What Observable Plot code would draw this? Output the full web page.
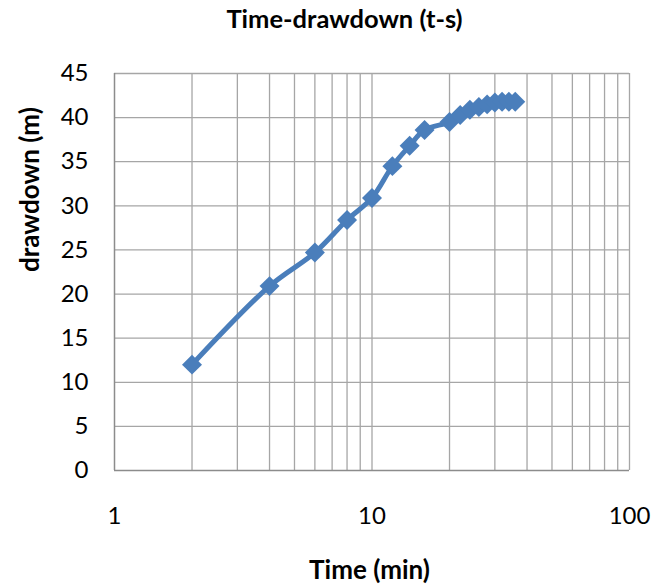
<!DOCTYPE html>
<html><head><meta charset="utf-8">
<script src="https://cdn.jsdelivr.net/npm/d3@7"></script>
<script src="https://cdn.jsdelivr.net/npm/@observablehq/plot@0.6"></script>
<style>body{margin:0;background:#fff}</style>
</head><body><div id="chart"></div>
<script>
const title = "Time-drawdown (t-s)";
const xLabel = "Time (min)";
const yLabel = "drawdown (m)";
const time = [2, 4, 6, 8, 10, 12, 14, 16, 20, 22, 24, 26, 28, 30, 32, 34, 36];
const drawdown = [12.0, 20.9, 24.7, 28.4, 30.9, 34.5, 36.8, 38.6, 39.5, 40.3, 40.9, 41.2, 41.5, 41.7, 41.8, 41.8, 41.8];
const xTicks = [1, 10, 100];
const xGrid = [2,3,4,5,6,7,8,9,10,20,30,40,50,60,70,80,90,100];
const yTicks = [0,5,10,15,20,25,30,35,40,45];

const data = time.map((t, i) => ({t, s: drawdown[i]}));
const font = "Lato, 'Open Sans', sans-serif";

const plot = Plot.plot({
  width: 666, height: 586,
  marginLeft: 114, marginRight: 37, marginTop: 73, marginBottom: 116,
  style: {fontFamily: font, fontSize: "24px", color: "#000", background: "#fff"},
  x: {type: "log", domain: [1, 100]},
  y: {domain: [0, 45]},
  marks: [
    Plot.ruleX(xGrid, {stroke: "#a6a6a6", strokeWidth: 1.3}),
    Plot.ruleY(yTicks.slice(1), {stroke: "#a6a6a6", strokeWidth: 1.3}),
    Plot.ruleX([1], {stroke: "#8c8c8c", strokeWidth: 1.5}),
    Plot.ruleY([0], {stroke: "#8c8c8c", strokeWidth: 1.5}),
    Plot.axisX(xTicks, {tickSize: 0, tickPadding: 36, tickFormat: d => String(d), fontSize: 24, label: null}),
    Plot.axisY(yTicks, {tickSize: 0, tickPadding: 26, fontSize: 24, label: null}),
    Plot.line(data, {x: "t", y: "s", stroke: "#4a7ebb", strokeWidth: 5, curve: "catmull-rom"}),
    Plot.dot(data, {x: "t", y: "s", symbol: "diamond2", r: 9, fill: "#4a7ebb", stroke: "none"}),
    Plot.text([title], {frameAnchor: "top", lineAnchor: "middle", dx: -27.5, dy: -54, fontSize: 25.5, fontWeight: "bold"}),
    Plot.text([xLabel], {frameAnchor: "bottom", lineAnchor: "middle", dx: -2.5, dy: 100, fontSize: 26, fontWeight: "bold"}),
    Plot.text([yLabel], {frameAnchor: "left", lineAnchor: "middle", dx: -84, rotate: -90, fontSize: 26, fontWeight: "bold"})
  ]
});
document.getElementById("chart").append(plot);
</script></body></html>
